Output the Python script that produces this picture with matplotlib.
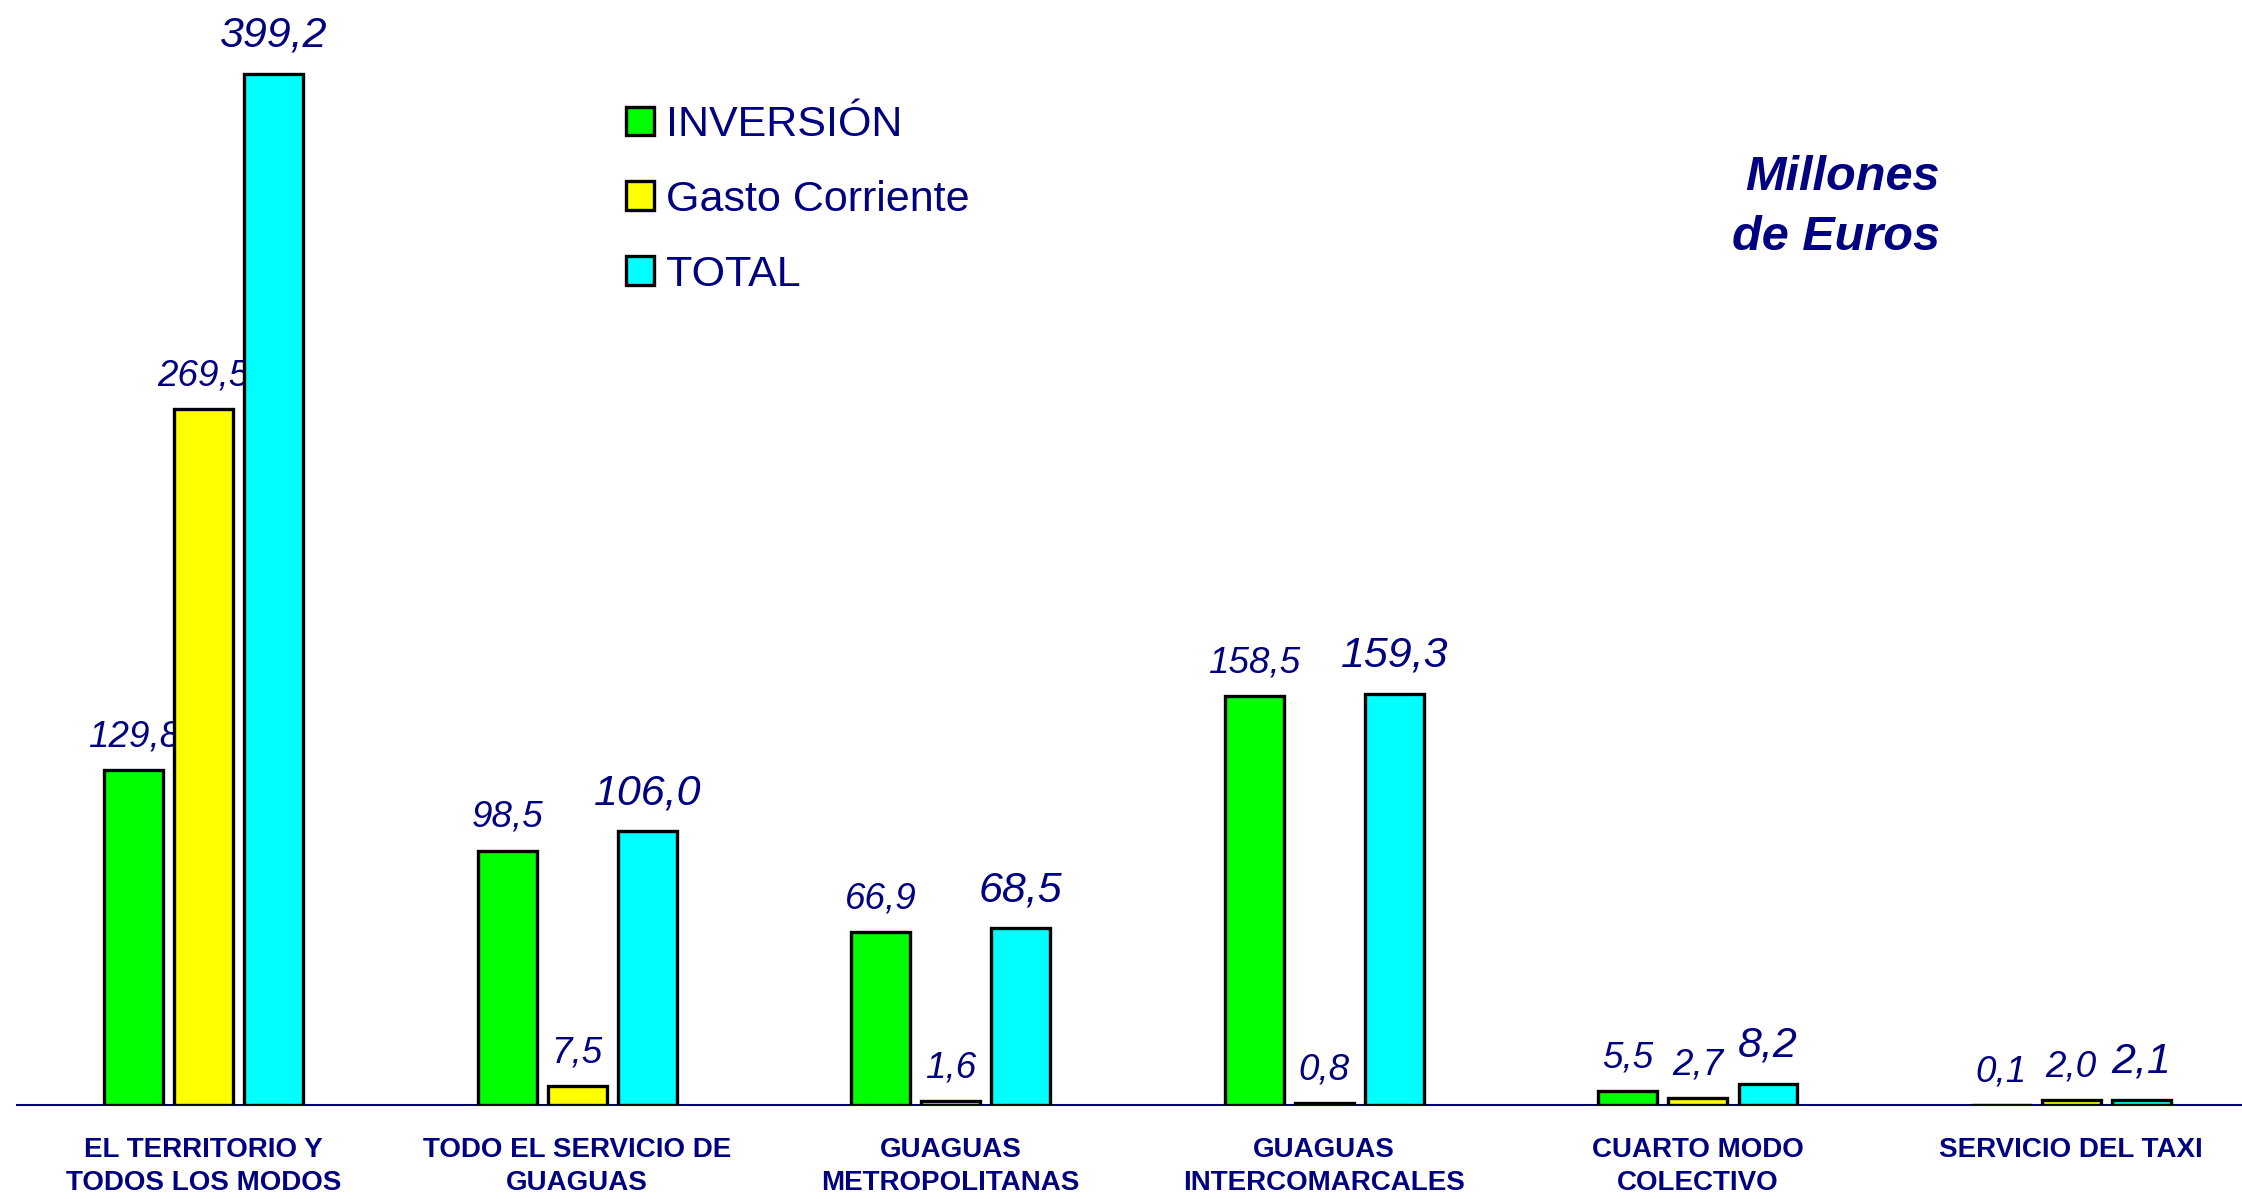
import numpy as np
import matplotlib
matplotlib.use("Agg")
import matplotlib.pyplot as plt

# ------------ DATA -------------
categories = [
    "EL TERRITORIO Y\nTODOS LOS MODOS",
    "TODO EL SERVICIO DE\nGUAGUAS",
    "GUAGUAS\nMETROPOLITANAS",
    "GUAGUAS\nINTERCOMARCALES",
    "CUARTO MODO\nCOLECTIVO",
    "SERVICIO DEL TAXI",
]
series_names = ["INVERSIÓN", "Gasto Corriente", "TOTAL"]
inversion = [129.8, 98.5, 66.9, 158.5, 5.5, 0.1]
gasto_corriente = [269.5, 7.5, 1.6, 0.8, 2.7, 2.0]
total = [399.2, 106.0, 68.5, 159.3, 8.2, 2.1]
# which value labels are drawn in the larger font
big_labels = [
    [False, False, False, False, False, False],
    [False, False, False, False, False, False],
    [True, True, True, True, True, True],
]
unit_text = "Millones\nde Euros"
# ---------------------------------

NAVY = "#000080"
COLORS = ["#00FF00", "#FFFF00", "#00FFFF"]
W, H = 2242, 1199

plt.rcParams["font.family"] = ["Liberation Sans", "DejaVu Sans"]

fig = plt.figure(figsize=(W / 100, H / 100), dpi=100)
ax = fig.add_axes([17 / W, 94 / H, 1 - 17 / W, 1105 / H])

x = np.arange(len(categories))
offset = 0.1875
width = 0.157
series = [inversion, gasto_corriente, total]

bars = []
for k, vals in enumerate(series):
    b = ax.bar(x + (k - 1) * offset, vals, width, color=COLORS[k],
               edgecolor="black", linewidth=2.4, label=series_names[k], zorder=3)
    bars.append(b)
    for i, v in enumerate(vals):
        big = big_labels[k][i]
        ax.annotate(f"{v:.1f}".replace(".", ","), (x[i] + (k - 1) * offset, v),
                    xytext=(0, 19.5 if big else 17), textcoords="offset points",
                    ha="center", va="baseline", fontsize=31 if big else 26.5,
                    style="italic", color=NAVY)

ax.set_xlim(-0.5, 5.457)
ax.set_ylim(0, 427.85)
for s in ["top", "right", "left"]:
    ax.spines[s].set_visible(False)
ax.spines["bottom"].set_color(NAVY)
ax.spines["bottom"].set_linewidth(1.5)
ax.set_yticks([])
ax.set_xticks([])

for i, cat in enumerate(categories):
    ax.annotate(cat, (x[i], 0), xycoords=("data", "axes fraction"),
                xytext=(0, -23), textcoords="offset points",
                ha="center", va="top", fontsize=20, fontweight="bold",
                color=NAVY, linespacing=1.37)

leg = ax.legend(handles=bars, loc="upper left",
                bbox_to_anchor=(626 / W, 1 - 105 / H), bbox_transform=fig.transFigure,
                frameon=False, fontsize=31, labelcolor=NAVY,
                handlelength=0.65, handleheight=0.65, handletextpad=0.27,
                labelspacing=0.81, borderpad=0, borderaxespad=0)

fig.text(1940 / W, 1 - 250 / H, unit_text, ha="right", va="baseline",
         multialignment="right", fontsize=35, fontweight="bold",
         style="italic", color=NAVY, linespacing=1.43)

fig.savefig("out.png", dpi=100, facecolor="white")
